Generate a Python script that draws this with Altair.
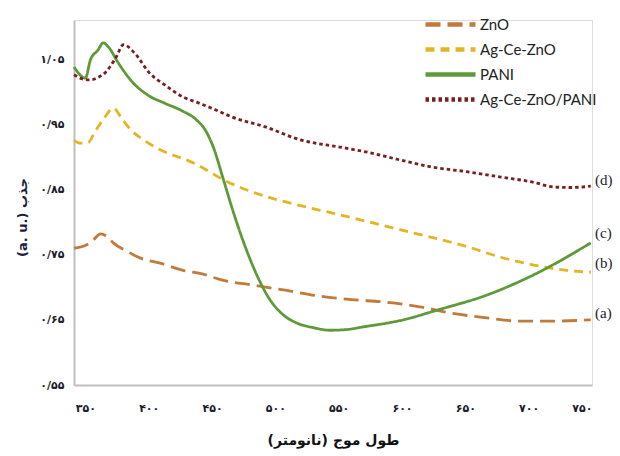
import altair as alt
import pandas as pd

# ---- data ----
series_names = ["ZnO", "Ag-Ce-ZnO", "PANI", "Ag-Ce-ZnO/PANI"]
series_colors = ["#c27a3a", "#e3b526", "#5e9a3a", "#7a1f1f"]

zno_x = [341, 350, 356, 362, 367, 372, 383, 393, 409, 427, 443, 456, 483, 509, 536, 560, 588, 614, 640, 667, 693, 719, 749]
zno_y = [0.760, 0.764, 0.772, 0.782, 0.778, 0.768, 0.755, 0.745, 0.737, 0.726, 0.720, 0.712, 0.703, 0.695, 0.686, 0.681, 0.677, 0.670, 0.660, 0.653, 0.648, 0.648, 0.650]

agce_x = [341, 346, 352, 358, 365, 372, 379, 386, 396, 409, 435, 462, 488, 514, 549, 599, 652, 678, 704, 730, 749]
agce_y = [0.925, 0.921, 0.922, 0.940, 0.960, 0.975, 0.958, 0.941, 0.926, 0.911, 0.891, 0.862, 0.842, 0.828, 0.812, 0.788, 0.762, 0.746, 0.734, 0.726, 0.723]

pani_x = [341, 350, 354, 360, 364, 368, 376, 387, 400, 413, 427, 437, 445, 451, 459, 467, 478, 486, 496, 506, 517, 530, 543, 556, 569, 601, 628, 667, 707, 749]
pani_y = [1.038, 1.021, 1.049, 1.064, 1.075, 1.069, 1.044, 1.015, 0.994, 0.982, 0.970, 0.958, 0.940, 0.915, 0.865, 0.814, 0.753, 0.716, 0.680, 0.658, 0.645, 0.638, 0.634, 0.635, 0.639, 0.650, 0.665, 0.688, 0.722, 0.768]

comp_x = [341, 347, 354, 360, 366, 374, 380, 389, 400, 413, 427, 439, 453, 466, 492, 520, 551, 573, 599, 625, 652, 678, 704, 719, 733, 749]
comp_y = [1.026, 1.020, 1.018, 1.022, 1.030, 1.052, 1.072, 1.059, 1.030, 1.010, 0.992, 0.983, 0.972, 0.961, 0.946, 0.926, 0.915, 0.907, 0.895, 0.884, 0.877, 0.869, 0.861, 0.854, 0.853, 0.855]

curve_labels = ["(a)", "(b)", "(c)", "(d)"]
curve_label_y = [0.660, 0.737, 0.783, 0.864]
curve_label_x = [750, 750, 750, 750]

x_tick_values = [350, 400, 450, 500, 550, 600, 650, 700, 750]
x_tick_labels = ["۳۵۰", "۴۰۰", "۴۵۰", "۵۰۰", "۵۵۰", "۶۰۰", "۶۵۰", "۷۰۰", "۷۵۰"]
y_tick_values = [0.55, 0.65, 0.75, 0.85, 0.95, 1.05]
y_tick_labels = ["۰/۵۵", "۰/۶۵", "۰/۷۵", "۰/۸۵", "۰/۹۵", "۱/۰۵"]

x_title = "\u200fطول موج (نانومتر)\u200f"
y_title = "(a. u.) جذب"

# ---- tables ----
rows = []
for name, xs, ys in [
    (series_names[0], zno_x, zno_y),
    (series_names[1], agce_x, agce_y),
    (series_names[2], pani_x, pani_y),
    (series_names[3], comp_x, comp_y),
]:
    for xv, yv in zip(xs, ys):
        rows.append({"series": name, "wl": xv, "abs": yv})
df = pd.DataFrame(rows)
lab_df = pd.DataFrame({"lab": curve_labels, "wl": curve_label_x, "abs": curve_label_y})


def label_expr(values, labels):
    parts = [f"abs(datum.value - {v}) < 1e-6 ? '{l}'" for v, l in zip(values, labels)]
    return " : ".join(parts) + " : ''"


x_scale = alt.Scale(domain=[341, 750], nice=False, zero=False)
y_scale = alt.Scale(domain=[0.55, 1.11], nice=False, zero=False)

legend_opts = dict(title=None, orient="none", legendX=369, legendY=-3,
                   symbolType="M-5,0H5", symbolSize=100, symbolStrokeWidth=4.5,
                   labelFont="Lato", labelFontSize=15, labelColor="#222222",
                   labelOffset=22, rowPadding=6)

lines = alt.Chart(df).mark_line(strokeWidth=2.8, interpolate="monotone", strokeCap="butt").encode(
    x=alt.X("wl:Q", scale=x_scale,
            axis=alt.Axis(values=x_tick_values, labelExpr=label_expr(x_tick_values, x_tick_labels),
                          title=x_title, grid=False, ticks=False, domainColor="#bfbfbf", domainWidth=2,
                          labelFont="DejaVu Sans", labelFontSize=11, labelFontWeight="bold", labelColor="#1b1b2b",
                          labelPadding=17, titleFont="DejaVu Sans", titleFontSize=14, titleFontWeight="bold",
                          titleColor="#111111", titleX=259, titleY=55, titleBaseline="middle")),
    y=alt.Y("abs:Q", scale=y_scale,
            axis=alt.Axis(values=y_tick_values, labelExpr=label_expr(y_tick_values, y_tick_labels),
                          title=y_title, grid=False, ticks=False, domainColor="#bfbfbf", domainWidth=2,
                          labelFont="DejaVu Sans", labelFontSize=11, labelFontWeight="bold", labelColor="#1b1b2b",
                          labelPadding=10, titleFont="DejaVu Sans", titleFontSize=13, titleFontWeight="bold",
                          titleColor="#1b1b3b", titleAngle=270, titleX=-52, titleY=197,
                          titleAlign="center", titleBaseline="middle")),
    color=alt.Color("series:N", scale=alt.Scale(domain=series_names, range=series_colors),
                    legend=alt.Legend(**legend_opts)),
    strokeDash=alt.StrokeDash("series:N", scale=alt.Scale(domain=series_names,
                                                          range=[[15, 7], [9, 6], [1, 0], [3.5, 3]]),
                              legend=alt.Legend(**legend_opts)),
    detail="series:N",
)

texts = alt.Chart(lab_df).mark_text(align="left", baseline="middle", dx=3, font="Liberation Serif",
                                    fontSize=15, color="#1b1b2b").encode(
    x=alt.X("wl:Q", scale=x_scale),
    y=alt.Y("abs:Q", scale=y_scale),
    text="lab:N",
)

chart = alt.layer(lines, texts).properties(
    width=518, height=365,
    autosize=alt.AutoSizeParams(type="none"),
    padding={"left": 74, "top": 20, "right": 28, "bottom": 71},
).configure_view(stroke=None).configure(background="white")

chart.save("out.html", embed_options={"renderer": "svg", "actions": False})
